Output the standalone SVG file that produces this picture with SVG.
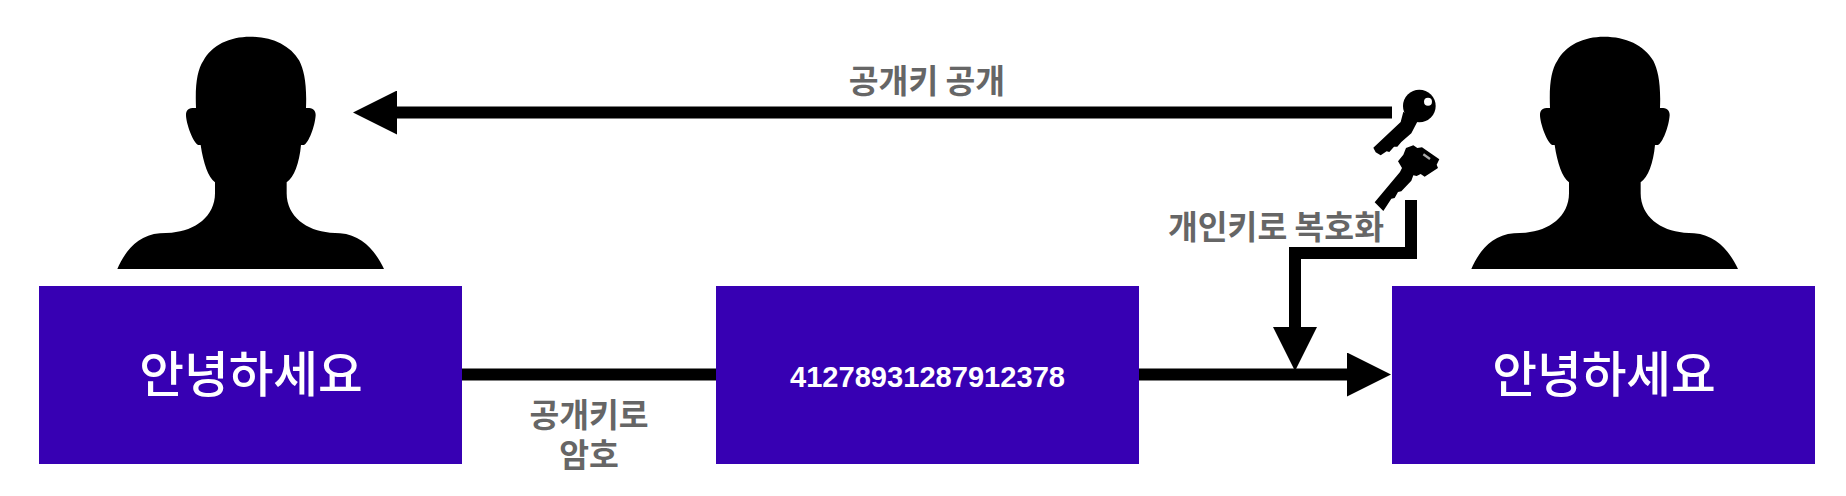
<svg xmlns="http://www.w3.org/2000/svg" width="1846" height="496" viewBox="0 0 1846 496">
<style>
.box{fill:#3700b3}
.silhouette{fill:#000}
.conn{fill:none;stroke:#000;stroke-width:12}
text{font-family:"Noto Sans CJK KR","Noto Sans",sans-serif;text-anchor:middle}
.greet{fill:#fff;font-size:48.6px;font-weight:500}
.cipher{fill:#fff;font-family:"Liberation Sans",Arial,sans-serif;font-size:29.1px;font-weight:700}
.lbl{fill:#666;font-size:32.4px;font-weight:700}
</style>
<defs>
<marker id="head" markerUnits="userSpaceOnUse" markerWidth="44" markerHeight="44" viewBox="0 0 44 44" refX="1" refY="22" orient="auto"><path d="M0,0L44,22L0,44Z" fill="#000"/></marker>
<path id="person" transform="translate(100,20) scale(.33333)" d="M52,747C72,700 110,645 180,640L215,638C285,632 345,590 345,520L345,487C325,472 310,430 302,375L295,375C280,370 258,310 258,285C258,268 268,263 288,264C285,190 292,150 310,122C335,75 390,50 450,50C515,50 570,75 598,122C612,150 621,190 618,264C635,263 647,268 647,285C645,320 625,370 612,375L603,375C598,430 582,472 560,487L560,520C560,590 620,632 690,638L720,640C790,645 830,700 852,747Z"/>
</defs>
<rect width="1846" height="496" fill="#fff"/>
<g id="connectors">
<path class="conn" d="M1392,112.5H396" marker-end="url(#head)"/>
<path class="conn" d="M462,374.5H716"/>
<path class="conn" d="M1139,374.5H1348" marker-end="url(#head)"/>
<path class="conn" d="M1411,200V253H1295V328" marker-end="url(#head)"/>
</g>
<g id="person-left"><use href="#person" class="silhouette"/></g>
<g id="person-right"><use href="#person" class="silhouette" x="1354"/></g>
<g id="public-key" transform="translate(1360,80) scale(.33333)">
<circle cx="178" cy="78" r="49" fill="#000"/>
<path d="M130,95L122,126L40,203L47,217L62,226L80,214L88,216L102,200L112,200L124,186L154,160L172,125Z" fill="#000"/>
<circle cx="204" cy="65" r="12" fill="#fff"/>
</g>
<g id="private-key" transform="translate(1360,80) scale(.33333)">
<path d="M160,196L172,204L186,202L238,238L230,254L234,264L194,290L182,282L170,288L160,286L154,302L124,334L114,336L104,354L94,356L70,393L44,367L120,276L126,264L114,244L130,224L138,204Z" fill="#000"/>
<path d="M192,220L212,234L208,240L188,226Z" fill="#aaa"/>
</g>
<g id="box-left"><rect class="box" x="39" y="286" width="423" height="178"/><text class="greet" x="251" y="392">안녕하세요</text></g>
<g id="box-middle"><rect class="box" x="716" y="286" width="423" height="178"/><text class="cipher" x="927.5" y="386.5">41278931287912378</text></g>
<g id="box-right"><rect class="box" x="1392" y="286" width="423" height="178"/><text class="greet" x="1604" y="392">안녕하세요</text></g>
<g id="label-publish"><text class="lbl" x="927" y="93">공개키 공개</text></g>
<g id="label-decrypt"><text class="lbl" x="1276" y="239">개인키로 복호화</text></g>
<g id="label-encrypt"><text class="lbl" x="589" y="427">공개키로<tspan x="589" dy="40">암호</tspan></text></g>
</svg>
